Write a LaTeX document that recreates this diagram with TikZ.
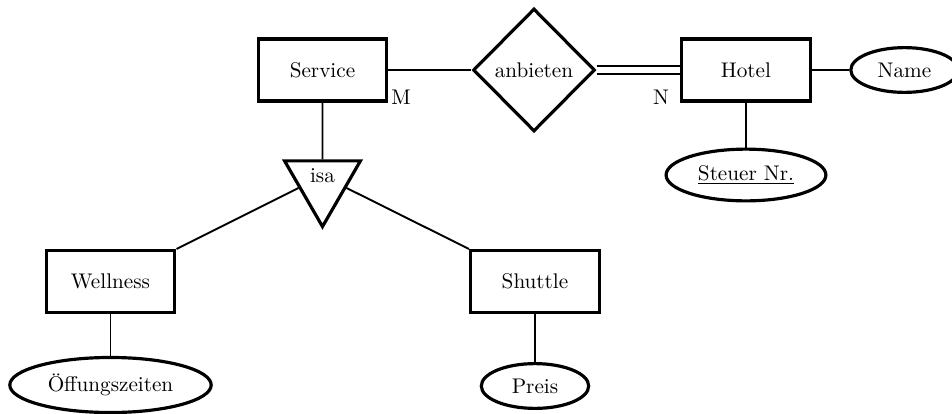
\documentclass[tikz,border=0pt]{standalone}
\usetikzlibrary{shapes.geometric}
\begin{document}
\begin{tikzpicture}[x=0.472pt,y=-0.472pt,
  entity/.style={draw, line width=1.5pt, minimum width=60.8pt, minimum height=29.2pt, inner sep=3pt},
  attr/.style={draw, ellipse, line width=1.5pt, minimum width=50.7pt, minimum height=19.3pt, inner sep=4pt},
  rel/.style={draw, diamond, line width=1.5pt, minimum width=57.5pt, minimum height=58pt, inner sep=1pt},
  isatri/.style={draw, isosceles triangle, isosceles triangle apex angle=60, shape border rotate=-90, line width=1.5pt, inner sep=3.8pt},
  conn/.style={line width=0.9pt},
  card/.style={inner sep=0pt}]
\useasboundingbox (0,0) rectangle (952,414);
\node[entity] (service) at (322.5,70) {Service};
\node[rel] (anbieten) at (534,70) {anbieten};
\node[entity] (hotel) at (746,70) {Hotel};
\node[attr] (name) at (904.5,70) {Name};
\node[attr] (steuer) at (746,175) {\underline{Steuer Nr.}};
\node[isatri] (isa) at (322.5,176) {isa};
\node[entity] (wellness) at (110.5,281.5) {Wellness};
\node[entity] (shuttle) at (535,281.5) {Shuttle};
\node[attr] (oeff) at (110.5,385) {Öffungszeiten};
\node[attr] (preis) at (535,386) {Preis};
\node[card] (m) at (401,97) {M};
\node[card] (n) at (661,97) {N};
\draw[conn] (service) -- (anbieten);
\draw[conn, double, double distance=3pt] (anbieten) -- (hotel);
\draw[conn] (hotel) -- (name);
\draw[conn] (hotel) -- (steuer);
\draw[conn] (service) -- (isa);
\draw[conn] (isa) -- (wellness.north east);
\draw[conn] (isa) -- (shuttle.north west);
\draw[conn] (wellness) -- (oeff);
\draw[conn] (shuttle) -- (preis);
\end{tikzpicture}
\end{document}
